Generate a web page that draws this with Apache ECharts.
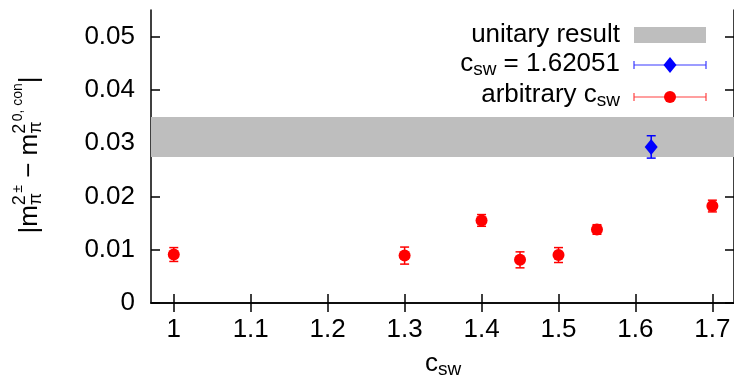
<!DOCTYPE html>
<html>
<head>
<meta charset="utf-8">
<script src="https://cdn.jsdelivr.net/npm/echarts@6/dist/echarts.min.js"></script>
<style>
  html, body { margin: 0; padding: 0; background: #fff; }
  #chart { width: 734px; height: 385px; }
</style>
</head>
<body>
<div id="chart"></div>
<script>
// data
var cswRed = [1, 1.3, 1.4, 1.45, 1.5, 1.55, 1.7];
var diffRed = [0.0091, 0.0089, 0.0155, 0.0081, 0.0090, 0.0138, 0.0182];
var errRed = [0.0013, 0.0016, 0.0011, 0.0015, 0.0014, 0.0009, 0.0011];
var cswBlue = [1.62051];
var diffBlue = [0.0293];
var errBlue = [0.0021];
var unitaryBand = [0.0274, 0.0349];
var xTicks = [1, 1.1, 1.2, 1.3, 1.4, 1.5, 1.6, 1.7];
var yTicks = [0, 0.01, 0.02, 0.03, 0.04, 0.05];

var FONT = '"Liberation Sans", Arial, sans-serif';
var ctx = document.createElement('canvas').getContext('2d');

// text with sub/superscripts: parts = [text, size, dy, sameX]
function mathText(parts, x, y, align, rotation) {
	var els = [], start = 0, end = 0;
	parts.forEach(function (p) {
		ctx.font = p[1] + 'px ' + FONT;
		var w = ctx.measureText(p[0]).width;
		var s = p[3] ? start : end;
		els.push({
			type: 'text', x: s, y: p[2],
			style: { text: p[0], fontSize: p[1], fontFamily: FONT, fill: '#000', align: 'left', verticalAlign: 'middle' }
		});
		end = p[3] ? Math.max(end, s + w) : s + w;
		start = s;
	});
	var off = align === 'right' ? -end : (align === 'center' ? -end / 2 : 0);
	els.forEach(function (e) { e.x += off; });
	return { type: 'group', x: x, y: y, rotation: rotation || 0, children: els };
}

function errorBar(color) {
	return function (params, api) {
		var x = api.value(0), y = api.value(1), e = api.value(2);
		var hi = api.coord([x, y + e]), lo = api.coord([x, y - e]);
		var hw = 4.5, st = { stroke: color, lineWidth: 1.5 };
		return {
			type: 'group', children: [
				{ type: 'line', shape: { x1: hi[0], y1: hi[1], x2: lo[0], y2: lo[1] }, style: st },
				{ type: 'line', shape: { x1: hi[0] - hw, y1: hi[1], x2: hi[0] + hw, y2: hi[1] }, style: st },
				{ type: 'line', shape: { x1: lo[0] - hw, y1: lo[1], x2: lo[0] + hw, y2: lo[1] }, style: st }
			]
		};
	};
}

function legendBar(y, color) {
	var st = { stroke: color, lineWidth: 1.2 };
	return {
		type: 'group', children: [
			{ type: 'line', shape: { x1: 634, y1: y, x2: 706, y2: y }, style: st },
			{ type: 'line', shape: { x1: 634, y1: y - 4, x2: 634, y2: y + 4 }, style: st },
			{ type: 'line', shape: { x1: 706, y1: y - 4, x2: 706, y2: y + 4 }, style: st }
		]
	};
}

var axisLine = { lineStyle: { color: '#000', width: 1.5 } };
var tickStyle = { color: '#000', width: 1.5 };

var chart = echarts.init(document.getElementById('chart'));
var option = {
	animation: false,
	grid: { left: 151, top: 10, width: 584, height: 293 },
	xAxis: [{
		type: 'value', min: 0.9704, max: 1.7281, position: 'bottom',
		axisLine: axisLine,
		axisTick: { inside: true, length: 9, customValues: xTicks, lineStyle: tickStyle },
		axisLabel: { customValues: xTicks, fontSize: 26, fontFamily: FONT, color: '#000', margin: 14 },
		splitLine: { show: false }
	}, {
		type: 'value', min: 0.9704, max: 1.7281, position: 'top',
		axisLine: axisLine,
		axisTick: { inside: true, length: 9, customValues: xTicks, lineStyle: tickStyle },
		axisLabel: { show: false },
		splitLine: { show: false }
	}],
	yAxis: [{
		type: 'value', min: 0, max: 0.055, position: 'left',
		axisLine: axisLine,
		axisTick: { inside: true, length: 9, customValues: yTicks, lineStyle: tickStyle },
		axisLabel: {
			customValues: yTicks, fontSize: 26, fontFamily: FONT, color: '#000', margin: 16,
			formatter: function (v) { return v === 0 ? '0' : v.toFixed(2); }
		},
		splitLine: { show: false }
	}, {
		type: 'value', min: 0, max: 0.055, position: 'right',
		axisLine: axisLine,
		axisTick: { inside: true, length: 9, customValues: yTicks, lineStyle: tickStyle },
		axisLabel: { show: false },
		splitLine: { show: false }
	}],
	series: [{
		name: 'unitary result',
		type: 'line', data: [], z: 1,
		markArea: {
			silent: true,
			itemStyle: { color: '#bebebe', opacity: 1 },
			data: [[{ yAxis: unitaryBand[0] }, { yAxis: unitaryBand[1] }]]
		}
	}, {
		type: 'custom', z: 3,
		renderItem: errorBar('#0000ff'),
		encode: { x: 0, y: 1 },
		data: cswBlue.map(function (x, i) { return [x, diffBlue[i], errBlue[i]]; })
	}, {
		type: 'scatter', z: 4,
		symbol: 'diamond', symbolSize: [13, 16],
		itemStyle: { color: '#0000ff', opacity: 1 },
		data: cswBlue.map(function (x, i) { return [x, diffBlue[i]]; })
	}, {
		type: 'custom', z: 3,
		renderItem: errorBar('#ff0000'),
		encode: { x: 0, y: 1 },
		data: cswRed.map(function (x, i) { return [x, diffRed[i], errRed[i]]; })
	}, {
		type: 'scatter', z: 4,
		symbol: 'circle', symbolSize: 12,
		itemStyle: { color: '#ff0000', opacity: 1 },
		data: cswRed.map(function (x, i) { return [x, diffRed[i]]; })
	}],
	graphic: [
		// legend
		mathText([['unitary result', 26, 0]], 620, 35, 'right'),
		{ type: 'rect', shape: { x: 634, y: 27, width: 72, height: 16 }, style: { fill: '#bebebe' } },
		mathText([['c', 26, 0], ['sw', 19, 6], [' = 1.62051', 26, 0]], 620, 64, 'right'),
		legendBar(65, '#3a3aff'),
		{ type: 'polygon', shape: { points: [[670, 57], [676.5, 65], [670, 73], [663.5, 65]] }, style: { fill: '#0000ff' } },
		mathText([['arbitrary c', 26, 0], ['sw', 19, 6]], 620, 95, 'right'),
		legendBar(97, '#ff4040'),
		{ type: 'circle', shape: { cx: 670, cy: 97, r: 6 }, style: { fill: '#ff0000' } },
		// axis titles
		mathText([['c', 26, 0], ['sw', 19, 6]], 443, 364, 'center'),
		mathText([
			['|', 26, 0], ['m', 26, 0],
			['2', 18, -10], ['\u03c0', 18, 6, true],
			['\u00b1', 14, -12],
			[' \u2212 ', 26, 0], ['m', 26, 0],
			['2', 18, -10], ['\u03c0', 18, 6, true],
			['0, con', 14, -12],
			['|', 26, 0]
		], 30, 155, 'center', Math.PI / 2)
	]
};
chart.setOption(option);
</script>
</body>
</html>
